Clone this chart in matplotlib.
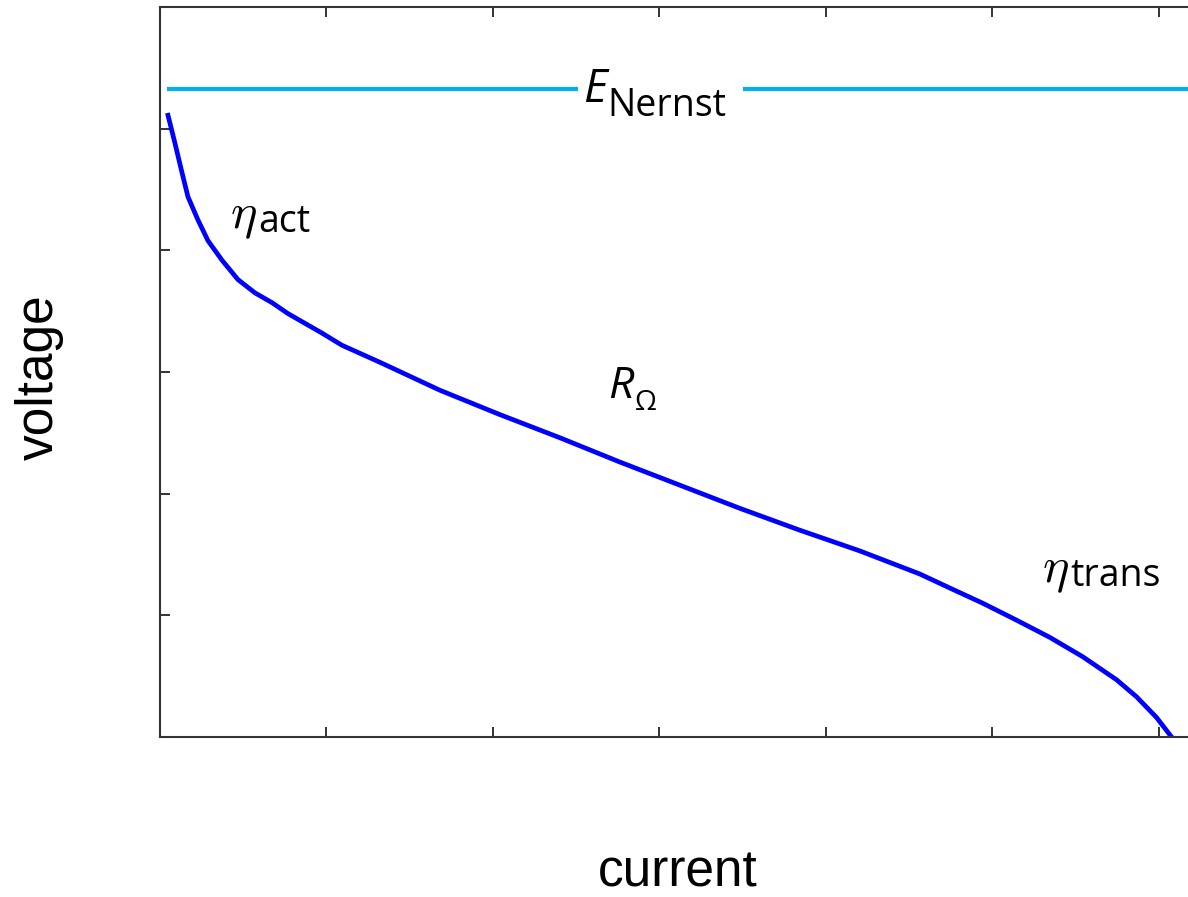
import matplotlib
matplotlib.use("Agg")
import matplotlib.pyplot as plt

plt.rcParams['font.family'] = ['Open Sans', 'DejaVu Sans']
plt.rcParams['mathtext.fontset'] = 'cm'

# polarisation curve (arbitrary units)
current = [0.048, 0.090, 0.132, 0.168, 0.228, 0.288, 0.372, 0.468, 0.571, 0.673,
           0.769, 0.871, 0.973, 1.093, 1.321, 1.682, 2.042, 2.402, 2.763, 3.123,
           3.483, 3.844, 4.204, 4.565, 4.745, 4.943, 5.147, 5.345, 5.544, 5.748,
           5.868, 5.988, 6.078]
voltage = [5.11, 4.88, 4.64, 4.44, 4.25, 4.08, 3.92, 3.76, 3.65, 3.57,
           3.48, 3.40, 3.32, 3.22, 3.08, 2.85, 2.65, 2.46, 2.26, 2.07,
           1.88, 1.70, 1.53, 1.34, 1.225, 1.10, 0.96, 0.82, 0.66, 0.47,
           0.33, 0.16, 0.0]

e_nernst = 5.33
nernst_segments = [(0.04, 2.51), (3.50, 7.2)]

fig = plt.figure(figsize=(11.88, 8.97), dpi=100)
ax = fig.add_axes([160 / 1188, 160 / 897, 1165 / 1188, 730 / 897])

for x0, x1 in nernst_segments:
    ax.plot([x0, x1], [e_nernst, e_nernst], color='#00B0F0', lw=3, solid_capstyle='butt')
ax.plot(current, voltage, color='#0000FF', lw=3.4, solid_joinstyle='round')

ax.set_xlim(0, 7)
ax.set_ylim(0, 6)
ax.set_xticks(range(0, 8))
ax.set_yticks(range(0, 7))
ax.set_xticklabels([])
ax.set_yticklabels([])
ax.tick_params(direction='in', top=True, right=True, length=7, width=1.4, color='#333333')
for s in ax.spines.values():
    s.set_linewidth(1.5)
    s.set_color('#333333')


def label(x, y, main, sub, size_main, size_sub, drop, italic=False):
    # main symbol, then its subscript right next to it
    t = ax.text(x, y, main, fontsize=size_main, va='baseline', ha='left',
                style='italic' if italic else 'normal')
    ax.annotate(sub, xy=(1, 0), xycoords=t, xytext=(1, -drop),
                textcoords='offset points', fontsize=size_sub, va='bottom', ha='left')


label(2.54, 5.22, 'E', 'Nernst', 33, 27, 9, italic=True)
label(0.42, 4.18, r'$\eta$', 'act', 36, 27, 0)
label(2.69, 2.79, 'R', '\u03a9', 32, 20, 6, italic=True)
label(5.30, 1.27, r'$\eta$', 'trans', 36, 27, 0)

fig.text(678 / 1188, 1 - 886 / 897, 'current', fontsize=37, ha='center', va='baseline',
         family='Liberation Sans')
fig.text(53 / 1188, 1 - 377 / 897, 'voltage', fontsize=37, ha='center', va='baseline',
         rotation=90, rotation_mode='anchor', family='Liberation Sans')

fig.savefig('out.png', dpi=100)
